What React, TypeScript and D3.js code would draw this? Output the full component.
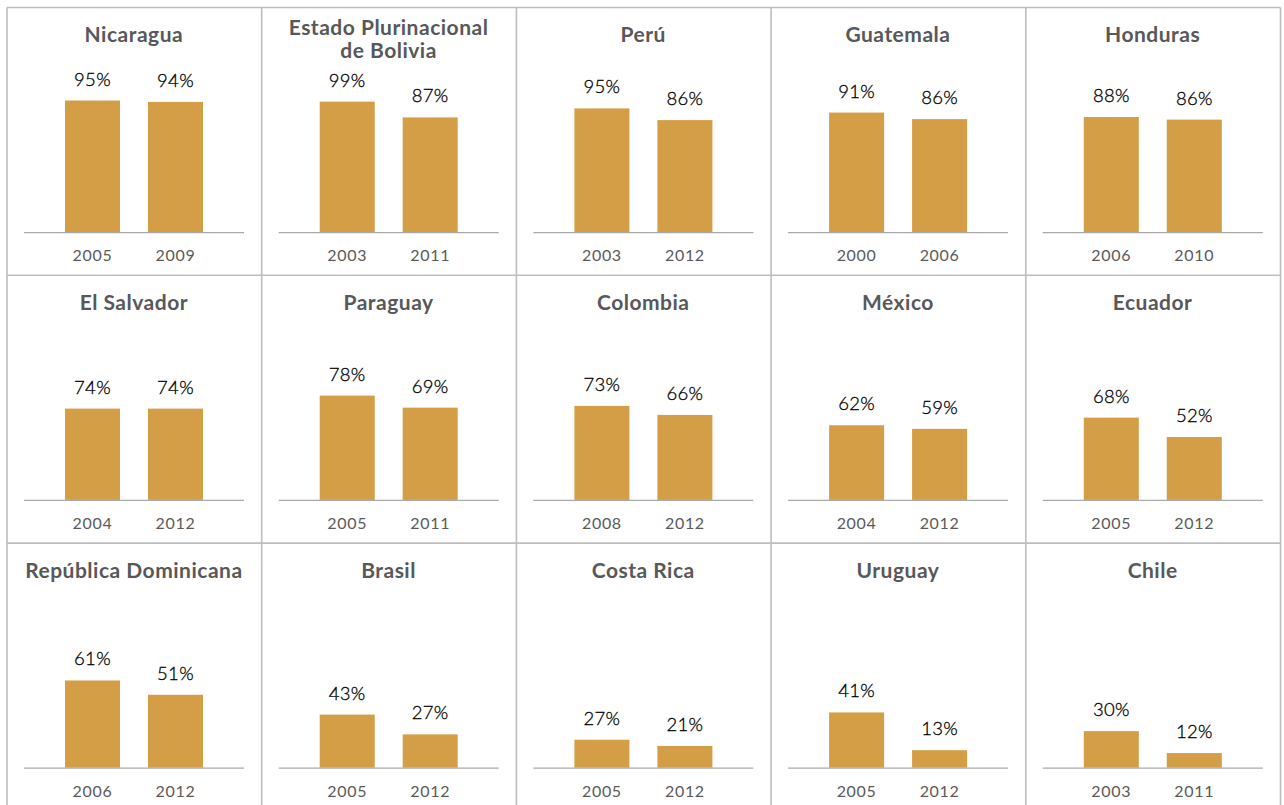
import React from "react";
import * as d3 from "d3";

const countries = [
  "Nicaragua", "Estado Plurinacional\nde Bolivia", "Perú", "Guatemala", "Honduras",
  "El Salvador", "Paraguay", "Colombia", "México", "Ecuador",
  "República Dominicana", "Brasil", "Costa Rica", "Uruguay", "Chile",
];
const firstYears = ["2005", "2003", "2003", "2000", "2006", "2004", "2005", "2008", "2004", "2005", "2006", "2005", "2005", "2005", "2003"];
const secondYears = ["2009", "2011", "2012", "2006", "2010", "2012", "2011", "2012", "2012", "2012", "2012", "2012", "2012", "2012", "2011"];
const firstValues = [95, 99, 95, 91, 88, 74, 78, 73, 62, 68, 61, 43, 27, 41, 30];
const secondValues = [94, 87, 86, 86, 86, 74, 69, 66, 59, 52, 51, 27, 21, 13, 12];
// each small chart has its own value axis maximum (as in the source)
const axisMax = [108.3, 113.8, 115.2, 114.2, 114.7, 121.6, 112.2, 116.5, 124.6, 124, 104.9, 121.5, 144.9, 111.3, 123];

const W = 1284;
const H = 805;
const COLS = 5;
const colX = d3.scaleLinear().domain([0, COLS]).range([7, 1280.5]);
const rowY = d3.scaleLinear().domain([0, 1]).range([7.5, 275.3]);
const panelW = colX(1) - colX(0);
const BASE = 224.6;
const PLOT_H = 150;

const BAR = "#D49E46";
const GRID = "#BDBDBD";
const FONT = "Lato, 'Noto Sans', sans-serif";

function Panel({ i }: { i: number }) {
  const c = i % COLS;
  const r = Math.floor(i / COLS);
  const x0 = colX(c);
  const y0 = rowY(r);
  const cats = [firstYears[i], secondYears[i]];
  const vals = [firstValues[i], secondValues[i]];
  const x = d3.scaleBand<string>().domain(cats).range([17, 237]).paddingInner(0.337).paddingOuter(0.494);
  const y = d3.scaleLinear().domain([0, axisMax[i]]).range([BASE, BASE - PLOT_H]);
  const lines = countries[i].split("\n");
  return (
    <g transform={`translate(${x0},${y0})`}>
      <text
        x={panelW / 2 - 0.5}
        y={lines.length > 1 ? 27.5 : 34.8}
        textAnchor="middle"
        fontFamily={FONT}
        fontWeight={700}
        fontSize={21}
        letterSpacing={0.5}
        fill="#58585A"
      >
        {lines.map((l, k) => (
          <tspan key={k} x={panelW / 2 - 0.5} dy={k === 0 ? 0 : 23.3}>{l}</tspan>
        ))}
      </text>
      {cats.map((cat, k) => (
        <g key={cat + k}>
          <rect x={x(cat)} y={y(vals[k])} width={x.bandwidth()} height={BASE - y(vals[k])} fill={BAR} />
          <text
            x={(x(cat) as number) + x.bandwidth() / 2}
            y={y(vals[k]) - 15}
            textAnchor="middle"
            fontFamily={FONT}
            fontWeight={300}
            fontSize={18.5}
            letterSpacing={0.3}
            fill="#000"
            stroke="#000"
            strokeWidth={0.3}
          >
            {vals[k]}%
          </text>
          <text
            x={(x(cat) as number) + x.bandwidth() / 2}
            y={BASE + 29.2}
            textAnchor="middle"
            fontFamily={FONT}
            fontWeight={400}
            fontSize={16}
            letterSpacing={0.7}
            fill="#5A5A5A"
          >
            {cat}
          </text>
        </g>
      ))}
      <line x1={17} x2={237} y1={BASE + 0.5} y2={BASE + 0.5} stroke="#A9A9A9" strokeWidth={1.3} />
    </g>
  );
}

export default function App() {
  const nRows = Math.ceil(countries.length / COLS);
  const vLines = d3.range(COLS + 1).map((c) => colX(c));
  const hLines = d3.range(nRows + 1).map((r) => rowY(r));
  return (
    <svg
      width={W}
      height={H}
      viewBox={`0 0 ${W} ${H}`}
      style={{ position: "absolute", left: 0, top: 0, background: "#fff" }}
    >
      <rect x={0} y={0} width={W} height={H} fill="#fff" />
      {countries.map((_, i) => (
        <Panel key={i} i={i} />
      ))}
      {vLines.map((vx, k) => (
        <line key={"v" + k} x1={vx} x2={vx} y1={hLines[0]} y2={hLines[nRows]} stroke={GRID} strokeWidth={1.6} />
      ))}
      {hLines.map((hy, k) => (
        <line key={"h" + k} x1={vLines[0]} x2={vLines[COLS]} y1={hy} y2={hy} stroke={GRID} strokeWidth={1.6} />
      ))}
    </svg>
  );
}
